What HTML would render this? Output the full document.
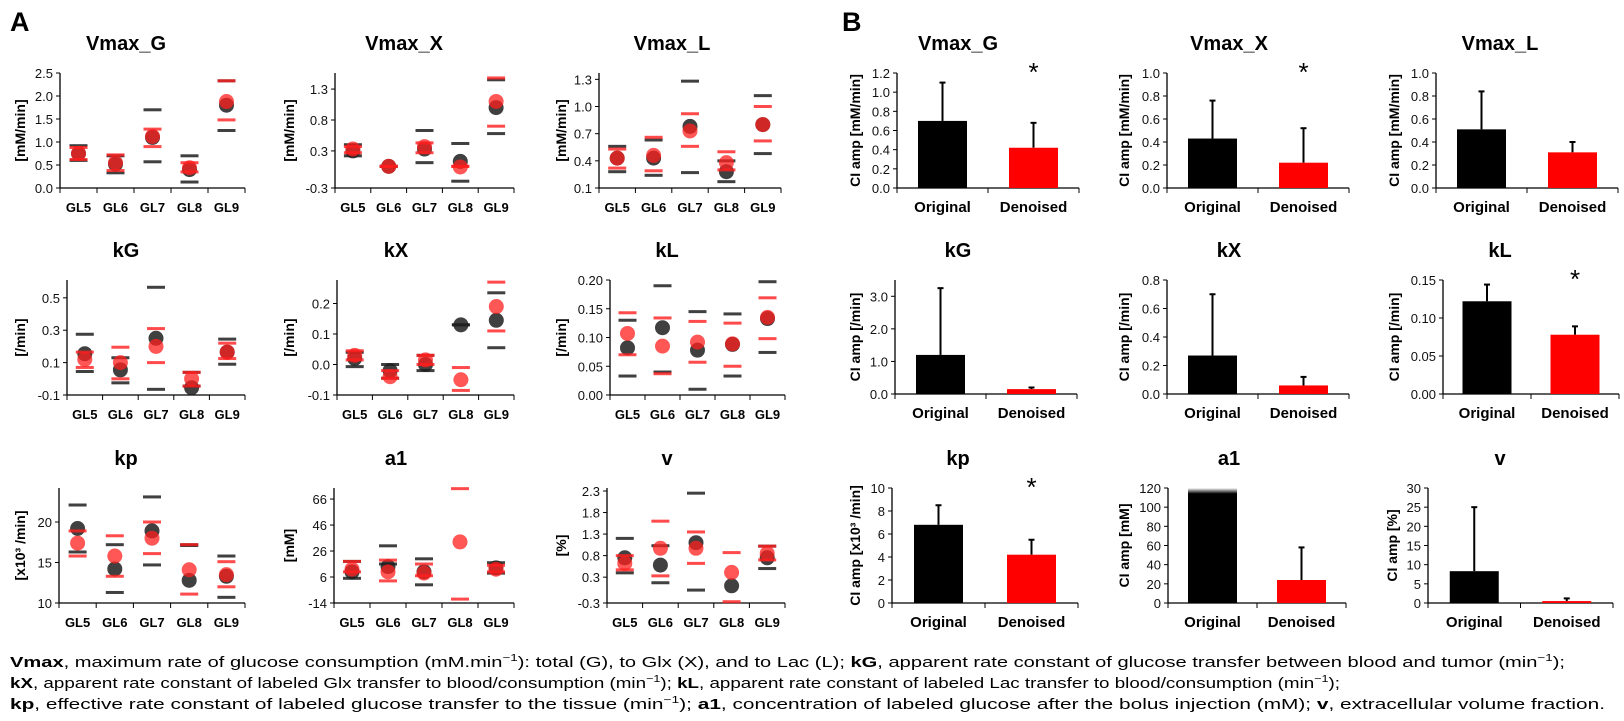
<!DOCTYPE html>
<html><head><meta charset="utf-8">
<style>
html,body{margin:0;padding:0;background:#fff;}
svg{display:block;font-family:"Liberation Sans",sans-serif;}
</style></head>
<body>
<svg id="fig" width="1624" height="721" viewBox="0 0 1624 721" xmlns="http://www.w3.org/2000/svg">
<text x="10" y="31" font-size="27" font-weight="bold">A</text>
<text x="842" y="31" font-size="27" font-weight="bold">B</text>
<g id="caption" font-size="15">
<text x="10" y="667" textLength="1555" lengthAdjust="spacingAndGlyphs"><tspan font-weight="bold">Vmax</tspan>, maximum rate of glucose consumption (mM.min<tspan font-size="10" dy="-6">−1</tspan><tspan dy="6">): total (G), to Glx (X), and to Lac (L); </tspan><tspan font-weight="bold">kG</tspan>, apparent rate constant of glucose transfer between blood and tumor (min<tspan font-size="10" dy="-6">−1</tspan><tspan dy="6">);</tspan></text>
<text x="10" y="688" textLength="1330" lengthAdjust="spacingAndGlyphs"><tspan font-weight="bold">kX</tspan>, apparent rate constant of labeled Glx transfer to blood/consumption (min<tspan font-size="10" dy="-6">−1</tspan><tspan dy="6">); </tspan><tspan font-weight="bold">kL</tspan>, apparent rate constant of labeled Lac transfer to blood/consumption (min<tspan font-size="10" dy="-6">−1</tspan><tspan dy="6">);</tspan></text>
<text x="10" y="709" textLength="1595" lengthAdjust="spacingAndGlyphs"><tspan font-weight="bold">kp</tspan>, effective rate constant of labeled glucose transfer to the tissue (min<tspan font-size="10" dy="-6">−1</tspan><tspan dy="6">); </tspan><tspan font-weight="bold">a1</tspan>, concentration of labeled glucose after the bolus injection (mM); <tspan font-weight="bold">v</tspan>, extracellular volume fraction.</text>
</g>
<defs>
<linearGradient id="fadeTop" x1="0" y1="0" x2="0" y2="1">
<stop offset="0" stop-color="#fff"/><stop offset="0.05" stop-color="#000"/><stop offset="1" stop-color="#000"/>
</linearGradient>
</defs>
</svg>
<script>
// ---------- Panel A data ----------
const A_names = ['Vmax_G','Vmax_X','Vmax_L','kG','kX','kL','kp','a1','v'];
const A_cats = ['GL5','GL6','GL7','GL8','GL9'];
const A_units = ['[mM/min]','[mM/min]','[mM/min]','[/min]','[/min]','[/min]','[x10³ /min]','[mM]','[%]'];
const A_min = [0, -0.3, 0.1, -0.1, -0.1, 0, 10, -14, -0.3];
const A_max = [2.5, 1.56, 1.37, 0.61, 0.277, 0.2, 24.2, 74.5, 2.37];
const A_ticks = [
 [0,0.5,1,1.5,2,2.5],[-0.3,0.3,0.8,1.3],[0.1,0.4,0.7,1.0,1.3],
 [-0.1,0.1,0.3,0.5],[-0.1,0,0.1,0.2],[0,0.05,0.1,0.15,0.2],
 [10,15,20],[-14,6,26,46,66],[-0.3,0.3,0.8,1.3,1.8,2.3]];
const A_tickLabels = [
 ['0.0','0.5','1.0','1.5','2.0','2.5'],['-0.3','0.3','0.8','1.3'],['0.1','0.4','0.7','1.0','1.3'],
 ['-0.1','0.1','0.3','0.5'],['-0.1','0.0','0.1','0.2'],['0.00','0.05','0.10','0.15','0.20'],
 ['10','15','20'],['-14','6','26','46','66'],['-0.3','0.3','0.8','1.3','1.8','2.3']];
const A_blackDot = [
 [0.75,0.52,1.10,0.40,1.80],[0.30,0.05,0.33,0.13,1.00],[0.43,0.43,0.78,0.28,0.80],
 [0.155,0.055,0.25,-0.055,0.165],[0.02,-0.02,0.0,0.13,0.145],[0.082,0.117,0.078,0.088,0.133],
 [19.2,14.2,18.9,12.8,13.3],[10,14,10,null,13],[0.75,0.58,1.10,0.10,0.75]];
const A_redDot = [
 [0.75,0.55,1.12,0.44,1.88],[0.33,0.05,0.37,0.04,1.10],[0.43,0.46,0.73,0.38,0.80],
 [0.12,0.10,0.20,0.0,0.165],[0.03,-0.04,0.015,-0.05,0.19],[0.107,0.085,0.092,0.089,0.135],
 [17.4,15.8,18.0,14.1,13.5],[12,10,9,33,12],[0.62,0.97,0.97,0.41,0.85]];
const A_blackLo = [
 [0.60,0.33,0.57,0.13,1.25],[0.22,0.05,0.11,-0.19,0.58],[0.28,0.24,0.27,0.17,0.48],
 [0.045,-0.025,-0.065,-0.045,0.09],[-0.007,-0.045,-0.02,0.13,0.055],[0.033,0.04,0.01,0.033,0.074],
 [16.3,11.3,14.7,17.1,10.7],[5,30,0,null,9],[0.40,0.17,0.0,null,0.50]];
const A_blackHi = [
 [0.92,0.70,1.70,0.70,2.33],[0.40,0.05,0.63,0.42,1.45],[0.56,0.63,1.28,0.40,1.12],
 [0.275,0.13,0.565,0.04,0.245],[0.04,0.0,0.03,0.13,0.235],[0.13,0.19,0.145,0.141,0.197],
 [22.1,17.2,23.1,17.2,15.8],[18,16,20,null,17],[1.2,1.03,2.25,null,1.02]];
const A_redLo = [
 [0.62,0.38,0.90,0.35,1.48],[0.27,0.05,0.27,0.05,0.70],[0.32,0.29,0.56,0.30,0.62],
 [0.07,0.0,0.10,-0.045,0.125],[0.015,-0.045,0.0,-0.085,0.11],[0.07,0.037,0.057,0.05,0.098],
 [15.8,13.3,16.1,11.1,12.0],[10,3,7,-11,10],[0.47,0.33,0.62,-0.27,0.70]];
const A_redHi = [
 [0.88,0.72,1.28,0.55,2.33],[0.37,0.05,0.43,0.05,1.48],[0.53,0.66,0.92,0.50,1.00],
 [0.165,0.195,0.31,0.04,0.22],[0.045,-0.02,0.03,-0.01,0.27],[0.143,0.134,0.128,0.125,0.169],
 [18.9,18.3,20.0,17.2,15.1],[18,19,16,74,15],[0.80,1.60,1.35,0.87,1.02]];
// layout (not data)
const A_geom = [
 {x0:60,x1:245,yT:73,yB:188,tx:126,ty:50,lx:20},
 {x0:335,x1:514,yT:73,yB:188,tx:404,ty:50,lx:289},
 {x0:599,x1:781,yT:73,yB:188,tx:672,ty:50,lx:561},
 {x0:67,x1:245,yT:280,yB:395,tx:126,ty:257,lx:20},
 {x0:337,x1:514,yT:280,yB:395,tx:396,ty:257,lx:289},
 {x0:610,x1:785,yT:280,yB:395,tx:667,ty:257,lx:561},
 {x0:59,x1:245,yT:488,yB:603,tx:126,ty:465,lx:20},
 {x0:334,x1:514,yT:488,yB:603,tx:396,ty:465,lx:289},
 {x0:607,x1:785,yT:488,yB:603,tx:667,ty:465,lx:561}];

// ---------- Panel B data ----------
const B_names = ['Vmax_G','Vmax_X','Vmax_L','kG','kX','kL','kp','a1','v'];
const B_cats = ['Original','Denoised'];
const B_units = ['CI amp [mM/min]','CI amp [mM/min]','CI amp [mM/min]','CI amp [/min]','CI amp [/min]','CI amp [/min]','CI amp [x10³ /min]','CI amp [mM]','CI amp [%]'];
const B_max = [1.2,1.0,1.0,3.5,0.8,0.15,10,120,30];
const B_ticks = [
 [0,0.2,0.4,0.6,0.8,1.0,1.2],[0,0.2,0.4,0.6,0.8,1.0],[0,0.2,0.4,0.6,0.8,1.0],
 [0,1,2,3],[0,0.2,0.4,0.6,0.8],[0,0.05,0.1,0.15],
 [0,2,4,6,8,10],[0,20,40,60,80,100,120],[0,5,10,15,20,25,30]];
const B_tickLabels = [
 ['0.0','0.2','0.4','0.6','0.8','1.0','1.2'],['0.0','0.2','0.4','0.6','0.8','1.0'],['0.0','0.2','0.4','0.6','0.8','1.0'],
 ['0.0','1.0','2.0','3.0'],['0.0','0.2','0.4','0.6','0.8'],['0.00','0.05','0.10','0.15'],
 ['0','2','4','6','8','10'],['0','20','40','60','80','100','120'],['0','5','10','15','20','25','30']];
const B_orig = [0.70,0.43,0.51,1.2,0.27,0.122,6.8,120,8.3];
const B_origErr = [1.10,0.76,0.84,3.25,0.70,0.144,8.5,null,25];
const B_den = [0.42,0.22,0.31,0.15,0.06,0.078,4.2,24,0.5];
const B_denErr = [0.68,0.52,0.40,0.20,0.12,0.089,5.5,58,1.2];
const B_star = [true,true,false,false,false,true,true,false,false];
const B_geom = [
 {x0:897,x1:1079,yT:73,yB:188,tx:958,ty:50,lx:855},
 {x0:1167,x1:1349,yT:73,yB:188,tx:1229,ty:50,lx:1124},
 {x0:1436,x1:1618,yT:73,yB:188,tx:1500,ty:50,lx:1394},
 {x0:895,x1:1077,yT:280,yB:394,tx:958,ty:257,lx:855},
 {x0:1167,x1:1349,yT:280,yB:394,tx:1229,ty:257,lx:1124},
 {x0:1443,x1:1619,yT:280,yB:394,tx:1500,ty:257,lx:1394},
 {x0:892,x1:1078,yT:488,yB:603,tx:958,ty:465,lx:855},
 {x0:1168,x1:1346,yT:488,yB:603,tx:1229,ty:465,lx:1124},
 {x0:1428,x1:1613,yT:488,yB:603,tx:1500,ty:465,lx:1392}];

const NS='http://www.w3.org/2000/svg';
const svg=document.getElementById('fig');
function mk(tag,attrs,parent){const e=document.createElementNS(NS,tag);for(const k in attrs)e.setAttribute(k,attrs[k]);(parent||svg).appendChild(e);return e;}

function axes(g,geo,min,max,ticks,labels,cats,name,unit,prefix){
  const y=v=>geo.yB-(v-min)/(max-min)*(geo.yB-geo.yT);
  const t=mk('text',{x:geo.tx,y:geo.ty,'font-size':20,'font-weight':'bold','text-anchor':'middle'},g);
  t.textContent=name;
  
  
  mk('line',{x1:geo.x0,y1:geo.yT,x2:geo.x0,y2:geo.yB,stroke:'#000','stroke-width':1.3},g);
  mk('line',{x1:geo.x0,y1:geo.yB,x2:geo.x1,y2:geo.yB,stroke:'#000','stroke-width':1.3},g);
  ticks.forEach((v,i)=>{
    mk('line',{x1:geo.x0-4,y1:y(v),x2:geo.x0,y2:y(v),stroke:'#000','stroke-width':1},g);
    const tl=mk('text',{x:geo.x0-7,y:y(v)+5,'font-size':13,'text-anchor':'end',fill:'#111'},g);
    tl.textContent=labels[i];
    
    
  });
  const cw=(geo.x1-geo.x0)/cats.length;
  for(let i=0;i<=cats.length;i++){
    const x=geo.x0+i*cw;
    mk('line',{x1:x,y1:geo.yB,x2:x,y2:geo.yB+5,stroke:'#000','stroke-width':1},g);
  }
  cats.forEach((c,i)=>{
    const cl=mk('text',{x:geo.x0+(i+0.5)*cw,y:geo.yB+24,'font-size':cats.length>2?13:15,'font-weight':'bold','text-anchor':'middle'},g);
    cl.textContent=c;
    
    
  });
  const cy=(geo.yT+geo.yB)/2;
  const ul=mk('text',{x:geo.lx,y:cy,'font-size':14,'font-weight':'bold','text-anchor':'middle',transform:`rotate(-90 ${geo.lx} ${cy})`,dy:5},g);
  ul.textContent=unit;
  
  
  return {y,cw};
}

A_names.forEach((name,p)=>{
  const geo=A_geom[p];
  const g=mk('g',{});
  
  
  const {y,cw}=axes(g,geo,A_min[p],A_max[p],A_ticks[p],A_tickLabels[p],A_cats,name,A_units[p],'a-'+name.toLowerCase().replace('_','-'));
  const bar=(v,x,col,nm)=>{ if(v==null)return; const r=mk('rect',{x:x-9,y:y(v)-1.5,width:18,height:3,fill:col},g);
      };
  A_cats.forEach((c,i)=>{
    const x=geo.x0+(i+0.5)*cw;
    bar(A_blackLo[p][i],x,'rgba(30,30,30,0.85)','black-ci-low');
    bar(A_blackHi[p][i],x,'rgba(30,30,30,0.85)','black-ci-high');
    if(A_blackDot[p][i]!=null){const d=mk('circle',{cx:x,cy:y(A_blackDot[p][i]),r:7.5,fill:'rgba(30,30,30,0.85)'},g);
       }
    bar(A_redLo[p][i],x,'rgba(255,30,30,0.8)','red-ci-low');
    bar(A_redHi[p][i],x,'rgba(255,30,30,0.8)','red-ci-high');
    const d2=mk('circle',{cx:x,cy:y(A_redDot[p][i]),r:7.5,fill:'rgba(255,30,30,0.75)'},g);
     
  });
});

B_names.forEach((name,p)=>{
  const geo=B_geom[p];
  const g=mk('g',{});
  
  
  const {y,cw}=axes(g,geo,0,B_max[p],B_ticks[p],B_tickLabels[p],B_cats,name,B_units[p],'b-'+name.toLowerCase().replace('_','-'));
  const vals=[B_orig[p],B_den[p]], errs=[B_origErr[p],B_denErr[p]];
  vals.forEach((v,i)=>{
    const xc=geo.x0+(i+0.5)*cw;
    if(errs[i]!=null){
      mk('line',{x1:xc,y1:y(v),x2:xc,y2:y(errs[i]),stroke:'#000','stroke-width':2},g);
      mk('line',{x1:xc-3,y1:y(errs[i]),x2:xc+3,y2:y(errs[i]),stroke:'#000','stroke-width':2},g);
    }
    const fill=i==0?((p==7)?'url(#fadeTop)':'#000'):'#ff0000';
    const r=mk('rect',{x:xc-24.5,y:y(v),width:49,height:geo.yB-y(v),fill:fill},g);
    
    
  });
  if(B_star[p]){
    const s=mk('text',{x:geo.x0+1.5*cw,y:geo.yT+8,'font-size':26,'text-anchor':'middle'},g);
    s.textContent='*';
    
    
  }
});
</script>
</body></html>
